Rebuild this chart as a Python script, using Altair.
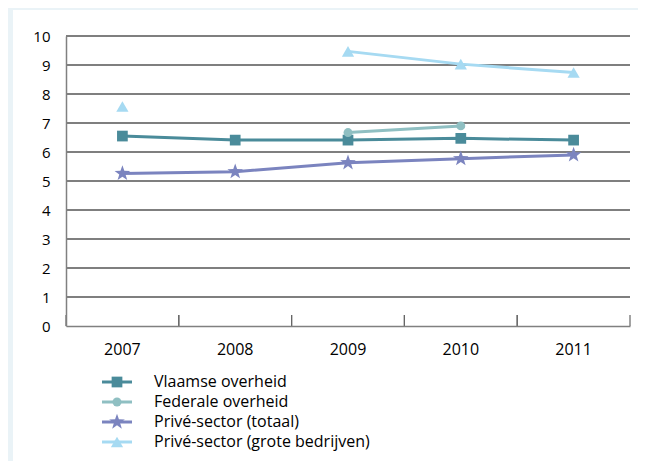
import altair as alt
import pandas as pd

years = ["2007", "2008", "2009", "2010", "2011"]
series = ["Vlaamse overheid", "Federale overheid", "Privé-sector (totaal)", "Privé-sector (grote bedrijven)"]
vlaamse = [6.55, 6.41, 6.41, 6.47, 6.41]
federale = [None, None, 6.67, 6.90, None]
prive_totaal = [5.26, 5.32, 5.63, 5.77, 5.90]
prive_groot = [7.57, None, 9.47, 9.03, 8.74]
y_ticks = [0, 1, 2, 3, 4, 5, 6, 7, 8, 9, 10]

colors = ["#4A8B9A", "#8FBFC2", "#7B84BF", "#A6DAF2"]
star = ("M0,-1L0.235,-0.324L0.951,-0.309L0.380,0.124L0.588,0.809L0,0.4"
        "L-0.588,0.809L-0.380,0.124L-0.951,-0.309L-0.235,-0.324Z")
shapes = ["square", "circle", star, "triangle-up"]
sizes = [115, 80, 270, 150]
size_of = dict(zip(series, sizes))

rows = []
for name, vals in zip(series, [vlaamse, federale, prive_totaal, prive_groot]):
    seg = 0
    for yr, v in zip(years, vals):
        if v is None:
            seg += 1
            continue
        rows.append({"series": name, "year": yr, "value": v,
                     "seg": f"{name}-{seg}", "sz": size_of[name]})
df = pd.DataFrame(rows)
leg_df = pd.DataFrame({"series": series, "idx": list(range(len(series))),
                       "sz": sizes})
grid_df = pd.DataFrame({"v": y_ticks})
year_df = pd.DataFrame({"year": years})
panel_df = pd.DataFrame({"a": [0]})

FONT = "Open Sans"
W, H = 564, 290

xscale = alt.Scale(type="band", domain=years, paddingInner=0, paddingOuter=0)
yscale = alt.Scale(domain=[0, 10])
cscale = alt.Scale(domain=series, range=colors)
sscale = alt.Scale(domain=series, range=shapes)
lscale = alt.Scale(domain=[0, 3], range=[346, 406])

x_axis = alt.Axis(title=None, labelFont=FONT, labelFontSize=16, labelColor="black",
                  labelPadding=15, domainColor="#808080", domainWidth=1.5,
                  ticks=False, grid=False, labelAngle=0, zindex=1)
y_axis = alt.Axis(title=None, labelFont=FONT, labelFontSize=15, labelColor="black",
                  labelPadding=16, domainColor="#808080", domainWidth=1.5,
                  ticks=False, grid=False, values=y_ticks, zindex=1)


def xenc(bp):
    return alt.X("year:N", scale=xscale, axis=x_axis, bandPosition=bp, sort=years)


panel = alt.Chart(panel_df).mark_rect(color="white").encode(
    x=alt.value(-53), x2=alt.value(590), y=alt.value(-26), y2=alt.value(440)
)

grid = alt.Chart(grid_df).transform_filter("datum.v > 0").mark_rule(
    color="black", strokeWidth=1.2
).encode(y=alt.Y("v:Q", scale=yscale, axis=None))

ticks0 = alt.Chart(year_df).mark_rule(color="#666", strokeWidth=1.2).encode(
    x=xenc(0), y=alt.value(H - 11), y2=alt.value(H)
)
ticks1 = alt.Chart(year_df).mark_rule(color="#666", strokeWidth=1.2).encode(
    x=xenc(1), y=alt.value(H - 11), y2=alt.value(H)
)

lines = alt.Chart(df).mark_line(strokeWidth=3).encode(
    x=xenc(0.5),
    y=alt.Y("value:Q", scale=yscale, axis=y_axis),
    color=alt.Color("series:N", scale=cscale, legend=None),
    detail="seg:N",
    order=alt.Order("year:N"),
)

points = alt.Chart(df).mark_point(filled=True, opacity=1).encode(
    x=xenc(0.5),
    y=alt.Y("value:Q", scale=yscale, axis=None),
    color=alt.Color("series:N", scale=cscale, legend=None),
    shape=alt.Shape("series:N", scale=sscale, legend=None),
    size=alt.Size("sz:Q", scale=None, legend=None),
)

leg_y = alt.Y("idx:Q", scale=lscale, axis=None)
leg_lines = alt.Chart(leg_df).mark_rule(strokeWidth=3).encode(
    x=alt.value(36), x2=alt.value(66), y=leg_y,
    color=alt.Color("series:N", scale=cscale, legend=None),
)
leg_points = alt.Chart(leg_df).mark_point(filled=True, opacity=1).encode(
    x=alt.value(51), y=leg_y,
    color=alt.Color("series:N", scale=cscale, legend=None),
    shape=alt.Shape("series:N", scale=sscale, legend=None),
    size=alt.Size("sz:Q", scale=None, legend=None),
)
leg_text = alt.Chart(leg_df).mark_text(
    align="left", baseline="middle", font=FONT, fontSize=16, color="black"
).encode(x=alt.value(88), y=leg_y, text="series:N")

chart = alt.layer(
    panel, grid, ticks0, ticks1, lines, points, leg_lines, leg_points, leg_text
).resolve_scale(y="independent").properties(
    width=W, height=H,
    autosize=alt.AutoSizeParams(type="none"),
    padding={"left": 58, "top": 28, "right": 8, "bottom": 135},
    background="#EAF3F7",
).configure_view(stroke=None)

chart.save("out.html", embed_options={"renderer": "svg", "actions": False})
